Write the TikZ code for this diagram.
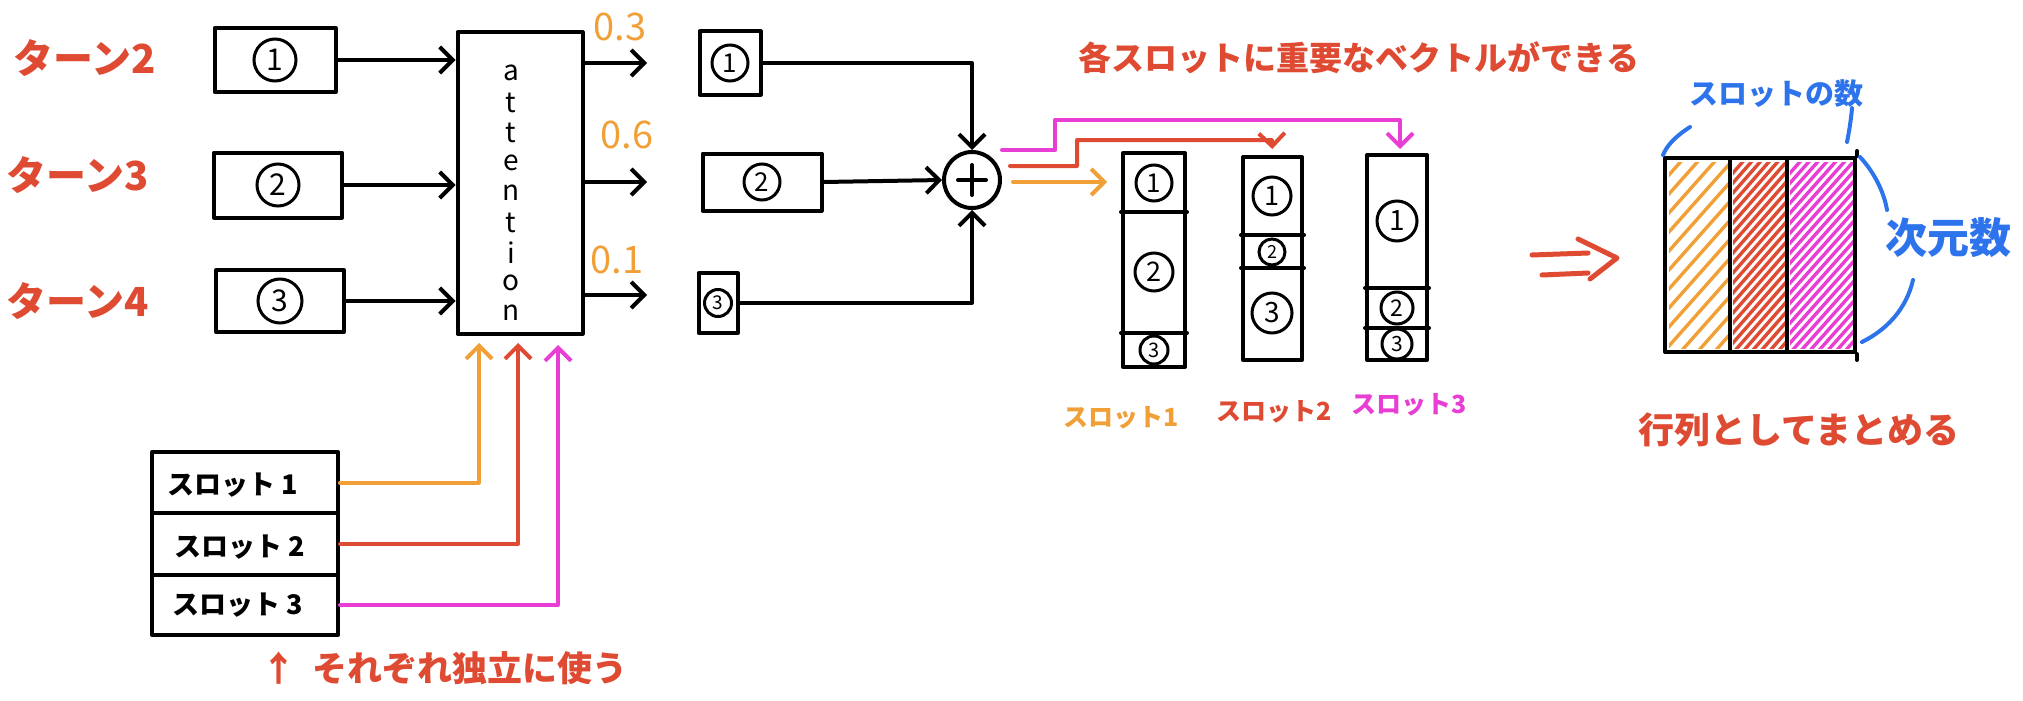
\documentclass[tikz,border=0pt]{standalone}
\usepackage{fontspec}
\setmainfont{Noto Sans CJK JP}
\usetikzlibrary{arrows.meta,calc}
\definecolor{hOrange}{HTML}{F0A037}
\definecolor{hRed}{HTML}{DE4A32}
\definecolor{hMagenta}{HTML}{E83ED4}
\definecolor{hBlue}{HTML}{2D73EB}
\newcommand\sz[1]{\fontsize{#1}{#1}\selectfont}
\tikzset{
  ink/.style={line width=4pt, line cap=round, line join=round},
  hatch/.style={line width=3.4pt, line cap=round},
  boxed/.style={draw, ink, rectangle, inner sep=0pt},
  digit/.style={circle, draw, line width=3pt, inner sep=0pt, minimum size=#1},
  arr/.style={-{Straight Barb[length=13pt, width=26pt]}},
  lbl/.style={inner sep=0pt, font=\sz{#1}\bfseries},
}
\begin{document}
\begin{tikzpicture}[x=1pt, y=-1pt]
\useasboundingbox (0,0) rectangle (2023,701);

% turn labels
\node[lbl=40, text=hRed] (t2) at (85,58) {ターン2};
\node[lbl=40, text=hRed] (t3) at (78,175) {ターン3};
\node[lbl=40, text=hRed] (t4) at (78,301) {ターン4};

% input turn vectors
\node[boxed, minimum width=121pt, minimum height=64pt] (in1) at (275,60) {};
\node[boxed, minimum width=128pt, minimum height=65pt] (in2) at (278,185) {};
\node[boxed, minimum width=128pt, minimum height=62pt] (in3) at (280,301) {};
\node[digit=42pt, font=\sz{30}] (in1n) at (in1) {1};
\node[digit=42pt, font=\sz{30}] (in2n) at (in2) {2};
\node[digit=44pt, font=\sz{30}] (in3n) at (in3) {3};

% attention block, its name written letter by letter downwards
\node[boxed, minimum width=125pt, minimum height=301pt] (att) at (520,183) {};
\foreach \ch [count=\i from 0] in {a,t,t,e,n,t,i,o,n}
  \node[inner sep=0pt, font=\sz{28}] (att\i) at (511,{73+30*\i}) {\ch};

\draw[ink, arr] (in1.east) -- (in1.east -| att.west);
\draw[ink, arr] (in2.east) -- (in2.east -| att.west);
\draw[ink, arr] (in3.east) -- (in3.east -| att.west);

% attention weights
\coordinate (o1) at (647,63);
\coordinate (o2) at (647,182);
\coordinate (o3) at (647,295);
\draw[ink, arr] (att.east |- o1) -- (o1);
\draw[ink, arr] (att.east |- o2) -- (o2);
\draw[ink, arr] (att.east |- o3) -- (o3);
\node[inner sep=0pt, font=\sz{38}, text=hOrange] (w1l) at (620,27) {0.3};
\node[inner sep=0pt, font=\sz{38}, text=hOrange] (w2l) at (627,135) {0.6};
\node[inner sep=0pt, font=\sz{38}, text=hOrange] (w3l) at (617,260) {0.1};

% weighted vectors
\node[boxed, minimum width=61pt, minimum height=63pt] (w1) at (730,63) {};
\node[boxed, minimum width=119pt, minimum height=57pt] (w2) at (762,182) {};
\node[boxed, minimum width=39pt, minimum height=60pt] (w3) at (718,303) {};
\node[digit=36pt, font=\sz{26}] (w1n) at (w1) {1};
\node[digit=36pt, font=\sz{26}] (w2n) at (w2) {2};
\node[digit=27pt, font=\sz{19}] (w3n) at (w3) {3};

% sum
\node[circle, draw, ink, minimum size=56pt] (plus) at (972,180) {};
\draw[ink] ($(plus)+(-14,0)$) -- ($(plus)+(14,0)$);
\draw[ink] ($(plus)+(0,-15)$) -- ($(plus)+(0,15)$);
\draw[ink, arr] (w1.east) -| (plus.north);
\draw[ink, arr] (w2.east) -- (plus.west);
\draw[ink, arr] (w3.east) -| (plus.south);

% slot vectors
\node[boxed, minimum width=62pt, minimum height=214pt] (col1) at (1154,260) {};
\node[boxed, minimum width=59pt, minimum height=203pt] (col2) at (1272.5,258.5) {};
\node[boxed, minimum width=60pt, minimum height=205pt] (col3) at (1397,257.5) {};
\draw[ink] (col1.west |- 0,212) -- (col1.east |- 0,212);
\draw[ink] (col1.west |- 0,333) -- (col1.east |- 0,333);
\draw[ink] (col2.west |- 0,235) -- (col2.east |- 0,235);
\draw[ink] (col2.west |- 0,268) -- (col2.east |- 0,268);
\draw[ink] (col3.west |- 0,288) -- (col3.east |- 0,288);
\draw[ink] (col3.west |- 0,328) -- (col3.east |- 0,328);
\node[digit=36pt, font=\sz{26}] (c1a) at (1154,183) {1};
\node[digit=38pt, font=\sz{27}] (c1b) at (1154,272) {2};
\node[digit=28pt, font=\sz{20}] (c1c) at (1154,350) {3};
\node[digit=38pt, font=\sz{27}] (c2a) at (1272,196) {1};
\node[digit=26pt, font=\sz{18}] (c2b) at (1272,252) {2};
\node[digit=40pt, font=\sz{28}] (c2c) at (1272,313) {3};
\node[digit=40pt, font=\sz{28}] (c3a) at (1397,221) {1};
\node[digit=32pt, font=\sz{23}] (c3b) at (1397,308) {2};
\node[digit=30pt, font=\sz{21}] (c3c) at (1397,344) {3};

\node[lbl=25, text=hOrange] (sl1) at (1121,418) {スロット1};
\node[lbl=25, text=hRed] (sl2) at (1274,412) {スロット2};
\node[lbl=25, text=hMagenta] (sl3) at (1409,405) {スロット3};

% routing of the sum to each slot
\coordinate (sO) at (1013,182);
\coordinate (sR) at (1010,166);
\coordinate (sM) at (1002,150);
\draw[ink, hOrange, arr, shorten >=14pt] (sO) -- (sO -| col1.west);
\draw[ink, hRed, arr, shorten >=6pt] (sR) -- (1077,166) -- (1077,140) -- (1272,140) -- (col2.north);
\draw[ink, hMagenta, arr, shorten >=6pt] (sM) -- (1055,150) -- (1055,120) -- (1400,120) -- (1400,155);

\node[lbl=33, text=hRed] (head) at (1359,58) {各スロットに重要なベクトルができる};

% implication arrow
\draw[ink, line width=5pt, hRed] (1532,255) -- (1588,253);
\draw[ink, line width=5pt, hRed] (1542,275) -- (1588,273);
\draw[ink, line width=5pt, hRed] (1578,239) -- (1617,258) -- (1590,279);

% stacked matrix with hatched columns
\begin{scope}
  \clip (1669,162) rectangle (1728,348);
  \foreach \k in {0,...,13}
    \draw[hatch, hOrange] (1660,{185+19*\k}) -- ++(80,-90);
\end{scope}
\begin{scope}
  \clip (1733,162) rectangle (1785,348);
  \foreach \k in {0,...,24}
    \draw[hatch, hRed] (1725,{182+10*\k}) -- ++(70,-80);
\end{scope}
\begin{scope}
  \clip (1790,162) rectangle (1853,348);
  \foreach \k in {0,...,24}
    \draw[hatch, hMagenta] (1782,{182+10*\k}) -- ++(80,-90);
\end{scope}
\node[boxed, minimum width=190pt, minimum height=194pt] (mat) at (1760,255) {};
\draw[ink] (1730,160) -- (1730,352);
\draw[ink] (1787,160) -- (1787,352);
\draw[ink] (mat.north east) -- ++(0,-5);
\draw[ink] (mat.south east) -- ++(0,6);

\node[lbl=29, text=hBlue] (nslot) at (1776,94) {スロットの数};
\node[lbl=42, text=hBlue] (ndim) at (1948,238) {次元数};
\draw[ink, hBlue] (1690,127) .. controls (1676,136) and (1667,145) .. (1663,155);
\draw[ink, hBlue] (1852,108) .. controls (1851,120) and (1849,132) .. (1847,142);
\draw[ink, hBlue] (1860,157) .. controls (1874,172) and (1884,192) .. (1887,210);
\draw[ink, hBlue] (1913,280) .. controls (1906,310) and (1886,330) .. (1862,342);

\node[lbl=36, text=hRed] (summ) at (1799,430) {行列としてまとめる};

% slot queries
\node[boxed, minimum width=186pt, minimum height=61pt] (s1) at (245,482.5) {};
\node[boxed, minimum width=186pt, minimum height=62pt] (s2) at (245,544) {};
\node[boxed, minimum width=186pt, minimum height=60pt] (s3) at (245,605) {};
\node[lbl=27] (s1t) at (233,485) {スロット 1};
\node[lbl=27] (s2t) at (240,547) {スロット 2};
\node[lbl=27] (s3t) at (238,605) {スロット 3};

\coordinate (qO) at (479,343);
\coordinate (qR) at (518,343);
\coordinate (qM) at (558,345);
\draw[ink, hOrange, arr] (s1.east) -| (qO);
\draw[ink, hRed, arr] (s2.east) -| (qR);
\draw[ink, hMagenta, arr] (s3.east) -| (qM);

\node[lbl=35, text=hRed, anchor=west] (indep) at (261,668) {↑\hspace{16pt}それぞれ独立に使う};
\end{tikzpicture}
\end{document}
